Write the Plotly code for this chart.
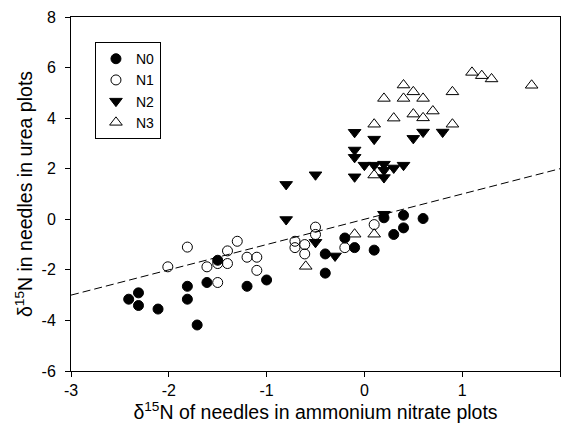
import plotly.graph_objects as go

# N0 (filled circles)
n0_x = [-2.41, -2.31, -2.31, -2.11, -1.81, -1.81, -1.71, -1.61, -1.50, -1.20, -1.00,
        -0.40, -0.40, -0.20, -0.10, 0.10, 0.20, 0.30, 0.40, 0.40, 0.60]
n0_y = [-3.16, -2.91, -3.41, -3.55, -2.65, -3.16, -4.18, -2.50, -1.62, -2.65, -2.40,
        -1.37, -2.13, -0.74, -1.12, -1.22, 0.06, -0.60, 0.16, -0.34, 0.03]

# N1 (open circles)
n1_x = [-2.01, -1.81, -1.61, -1.50, -1.50, -1.40, -1.40, -1.30, -1.20, -1.10, -1.10,
        -0.71, -0.71, -0.61, -0.61, -0.50, -0.50, -0.20, 0.10]
n1_y = [-1.88, -1.10, -1.88, -1.75, -2.50, -1.25, -1.75, -0.87, -1.50, -1.50, -2.02,
        -0.87, -1.12, -1.00, -1.37, -0.31, -0.60, -1.12, -0.21]

# N2 (filled down triangles)
n2_x = [-0.80, -0.80, -0.50, -0.50, -0.30, -0.10, -0.10, -0.10, -0.10, 0.00, 0.10, 0.10,
        0.20, 0.20, 0.20, 0.20, 0.30, 0.40, 0.50, 0.60, 0.80]
n2_y = [1.38, -0.01, 1.76, -0.91, -1.45, 3.44, 2.74, 2.45, 1.68, 2.14, 3.17, 2.14,
        2.18, 1.94, 1.65, 0.20, 2.03, 2.14, 3.20, 3.45, 3.45]

# N3 (open up triangles)
n3_x = [-0.60, -0.10, 0.10, 0.10, 0.10, 0.20, 0.30, 0.40, 0.40, 0.50, 0.50, 0.60, 0.60,
        0.70, 0.90, 0.90, 1.10, 1.20, 1.30, 1.71]
n3_y = [-1.86, -0.59, -0.59, 3.76, 1.75, 4.78, 4.00, 5.31, 4.78, 5.04, 4.16, 4.78, 4.01,
        4.28, 5.04, 3.76, 5.81, 5.68, 5.55, 5.30]

# 1:1 reference line
ref_x = [-3, 2]
ref_y = [-3, 2]

x_ticks = [-3, -2, -1, 0, 1, 2]
x_tick_labels = ["-3", "-2", "-1", "0", "1", "2"]
y_ticks = [-6, -4, -2, 0, 2, 4, 6, 8]
y_tick_labels = ["-6", "-4", "-2", "0", "2", "4", "6", "8"]

FONT = "Liberation Sans, Arial, sans-serif"

fig = go.Figure()
fig.add_trace(go.Scatter(x=ref_x, y=ref_y, mode="lines", showlegend=False,
                         line=dict(color="black", width=1, dash="8px,4px")))
fig.add_trace(go.Scatter(x=n0_x, y=n0_y, mode="markers", name="N0",
                         marker=dict(symbol="circle", size=10, color="black",
                                     line=dict(color="black", width=1))))
fig.add_trace(go.Scatter(x=n1_x, y=n1_y, mode="markers", name="N1",
                         marker=dict(symbol="circle-open", size=10, color="black",
                                     line=dict(color="black", width=1))))
fig.add_trace(go.Scatter(x=n2_x, y=n2_y, mode="markers", name="N2",
                         marker=dict(symbol="triangle-down", size=11, color="black",
                                     line=dict(color="black", width=1))))
fig.add_trace(go.Scatter(x=n3_x, y=n3_y, mode="markers", name="N3",
                         marker=dict(symbol="triangle-up-open", size=11, color="black",
                                     line=dict(color="black", width=1))))

axis_common = dict(showgrid=False, zeroline=False, showline=True, linecolor="black",
                   linewidth=1, mirror=True, ticks="outside", ticklen=5,
                   tickcolor="black", tickfont=dict(family=FONT, size=16, color="black"))

fig.update_layout(
    width=564, height=428,
    margin=dict(l=71, r=4, t=17, b=57),
    paper_bgcolor="white", plot_bgcolor="white",
    font=dict(family=FONT, color="black"),
    xaxis=dict(range=[-3, 2], tickvals=x_ticks, ticktext=x_tick_labels,
               title=dict(text="δ<sup>15</sup>N of needles in ammonium nitrate plots",
                          font=dict(family=FONT, size=19.5), standoff=2),
               **axis_common),
    yaxis=dict(range=[-6, 8], tickvals=y_ticks, ticktext=y_tick_labels,
               ticklabelstandoff=6,
               title=dict(text="δ<sup>15</sup>N in needles in urea plots",
                          font=dict(family=FONT, size=19.5), standoff=3),
               **axis_common),
    legend=dict(x=0.049, y=0.929, xanchor="left", yanchor="top",
                bordercolor="black", borderwidth=1, bgcolor="white",
                font=dict(family=FONT, size=14), tracegroupgap=0),
)

fig.write_html("out.html")
